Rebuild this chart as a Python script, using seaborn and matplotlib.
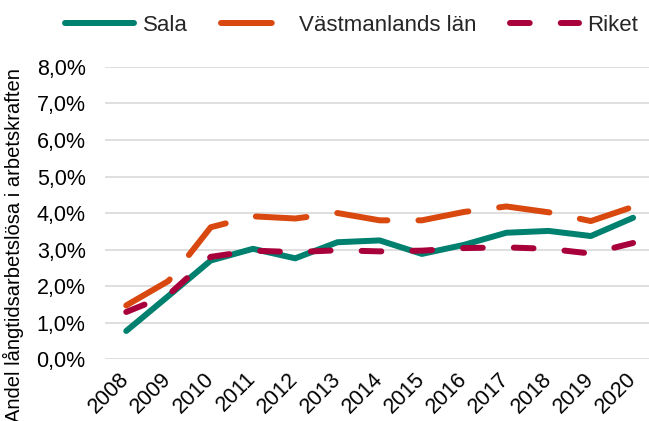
import numpy as np
import pandas as pd
import matplotlib
matplotlib.use("Agg")
import matplotlib.pyplot as plt
import seaborn as sns

years = [2008, 2009, 2010, 2011, 2012, 2013, 2014, 2015, 2016, 2017, 2018, 2019, 2020]
sala = [0.77, 1.73, 2.70, 3.02, 2.76, 3.20, 3.25, 2.88, 3.13, 3.46, 3.51, 3.37, 3.87]
vastmanland = [1.47, 2.14, 3.61, 3.91, 3.85, 4.00, 3.80, 3.80, 4.03, 4.18, 4.02, 3.78, 4.17]
riket = [1.29, 1.76, 2.80, 2.97, 2.93, 2.98, 2.95, 2.97, 3.04, 3.06, 3.02, 2.89, 3.18]
yticks = [0, 1, 2, 3, 4, 5, 6, 7, 8]

sns.set_theme(style="white")
plt.rcParams["font.family"] = ["Liberation Sans", "DejaVu Sans"]

df = pd.DataFrame({"year": years, "Sala": sala,
                   "Västmanlands län": vastmanland, "Riket": riket})

fig = plt.figure(figsize=(6.49, 4.21), dpi=100)
ax = fig.add_axes([0.162, 0.147, 0.846, 0.694])

lw = 4.3
sns.lineplot(data=df, x="year", y="Sala", ax=ax, color="#00806e", lw=lw,
             solid_capstyle="round", label="Sala")
sns.lineplot(data=df, x="year", y="Västmanlands län", ax=ax, color="#d9480f", lw=lw,
             linestyle=(0, (8.5, 5.2)), dash_capstyle="round", label="Västmanlands län")
sns.lineplot(data=df, x="year", y="Riket", ax=ax, color="#a8003a", lw=lw,
             linestyle=(0, (3.3, 5.2)), dash_capstyle="round", label="Riket")

ax.set_xlim(2007.5, 2020.5)
ax.set_ylim(0, 8)
ax.set_yticks(yticks)
ax.set_xticks(years)
ax.yaxis.set_major_formatter(plt.FuncFormatter(lambda v, _: f"{v:.1f}%".replace(".", ",")))
ax.grid(axis="y", color="#d9d9d9", lw=1.2)
ax.set_axisbelow(True)
for s in ax.spines.values():
    s.set_visible(False)
ax.tick_params(axis="y", length=0, pad=14, labelsize=15.5, labelcolor="black")
ax.tick_params(axis="x", length=0, pad=12, labelsize=15.5, labelcolor="black")
for t in ax.get_xticklabels():
    t.set_rotation(45)
    t.set_ha("right")
    t.set_va("center")
    t.set_rotation_mode("anchor")

ax.set_xlabel("")
ax.set_ylabel("Andel långtidsarbetslösa i arbetskraften", fontsize=14.5, color="black")
ax.yaxis.set_label_coords(-0.147, 0.39)

handles, labels = ax.get_legend_handles_labels()
ax.get_legend().remove()
fig.legend(handles, labels, loc="center", bbox_to_anchor=(0.542, 0.94), ncol=3,
           frameon=False, fontsize=16, handlelength=3.1, handletextpad=0.4,
           columnspacing=1.5)

fig.savefig("out.png", dpi=100)
